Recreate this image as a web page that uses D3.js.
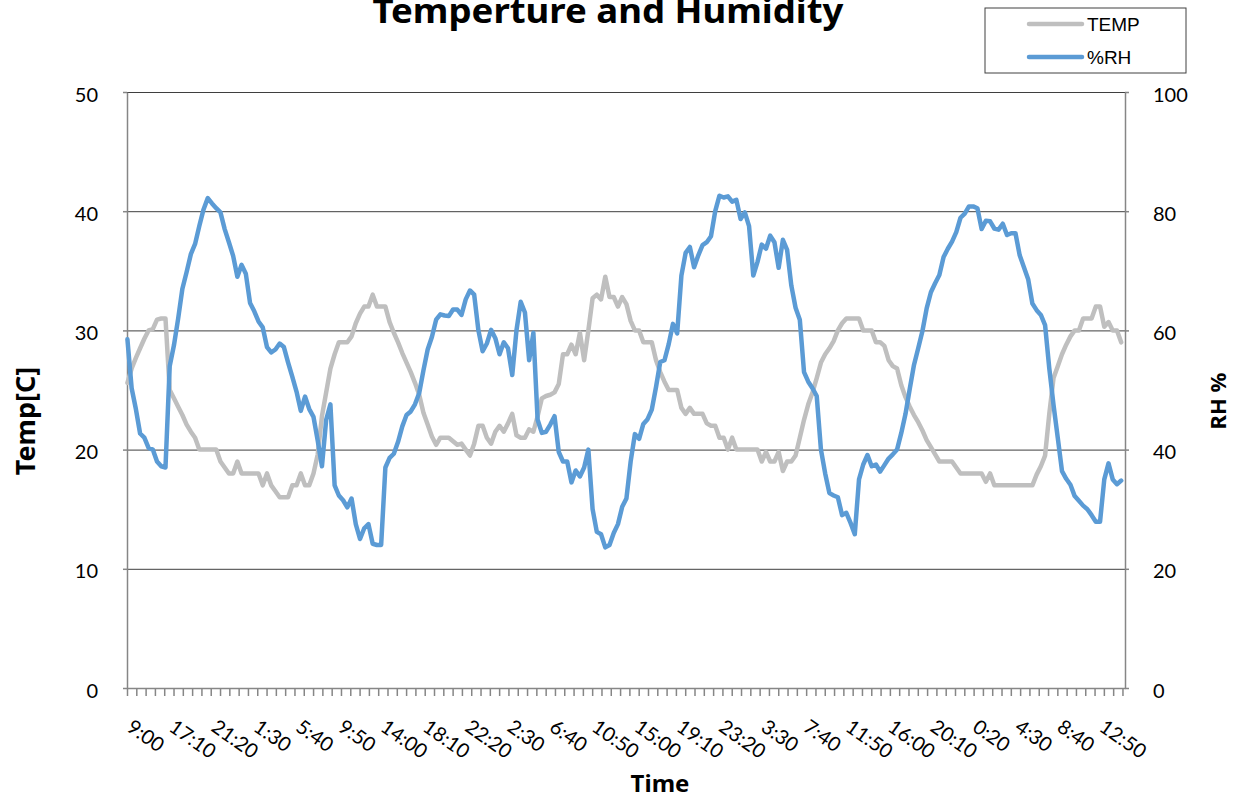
<!DOCTYPE html>
<html lang="en">
<head>
  <meta charset="UTF-8" />
  <title>Temperture and Humidity</title>
  <script src="https://d3js.org/d3.v7.min.js"></script>
  <style>
    html, body {
      margin: 0;
      padding: 0;
      background-color: #fff;
      overflow: hidden;
    }
    svg {
      display: block;
    }
    .axis text {
      font-family: Lato, 'Noto Sans', sans-serif;
      font-size: 20px;
      fill: #000;
    }
    .axis path, .axis line {
      stroke: #868686;
      stroke-width: 1.5px;
    }
    .grid line {
      stroke: #3f3f3f;
      stroke-width: 1px;
    }
    .grid path {
      display: none;
    }
    .axis-title {
      font-family: 'Noto Sans', sans-serif;
      font-weight: bold;
      fill: #000;
    }
  </style>
</head>
<body>
  <svg width="1235" height="798"></svg>

  <script>
    // ---- data ----
    const chartTitle = "Temperture and Humidity";

    // one label every 50 readings (5 min logger), tick mark every 11
    const timeLabels = ["9:00", "17:10", "21:20", "1:30", "5:40", "9:50", "14:00", "18:10",
      "22:20", "2:30", "6:40", "10:50", "15:00", "19:10", "23:20", "3:30", "7:40", "11:50",
      "16:00", "20:10", "0:20", "4:30", "8:40", "12:50"];
    const nReadings = 1180;
    const labelEvery = 50;
    const tickEvery = 11;
    const sampleEvery = 5; // values below are every 5th reading

    const tempC = [
      25.6, 26.8, 27.7, 28.5, 29.3, 30, 30.1, 30.9, 31, 31,
      25, 24.3, 23.6, 22.9, 22.1, 21.5, 21, 20, 20, 20,
      20, 20, 19, 18.5, 18, 18, 19, 18, 18, 18,
      18, 18, 17, 18, 17, 16.5, 16, 16, 16, 17,
      17, 18, 17, 17, 18, 19.6, 22.8, 24.8, 26.8, 28,
      29, 29, 29, 29.5, 30.6, 31.4, 32, 32, 33, 32,
      32, 32, 30.7, 29.8, 29, 28.1, 27.3, 26.5, 25.6, 24.6,
      23.1, 22.1, 21.1, 20.4, 21, 21, 21, 20.7, 20.4, 20.5,
      20, 19.5, 20.5, 22, 22, 21, 20.5, 21.5, 22, 21.5,
      22.2, 23, 21.2, 21, 21, 21.7, 21.5, 22.8, 24.3, 24.5,
      24.6, 24.8, 25.5, 28, 28, 28.8, 28, 29.8, 27.5, 30,
      32.7, 33, 32.6, 34.5, 32.8, 32.8, 32, 32.8, 32.2, 30.8,
      30, 30, 29, 29, 29, 27.5, 26.5, 25.7, 25, 25,
      25, 23.5, 23, 23.5, 23, 23, 23, 22.2, 22, 22,
      21, 21, 20, 21, 20, 20, 20, 20, 20, 20,
      19, 19.8, 19, 19, 19.8, 18.2, 19, 19, 19.5, 21,
      22.5, 23.8, 24.8, 26, 27.3, 28, 28.5, 29.1, 30, 30.6,
      31, 31, 31, 31, 30, 30, 30, 29, 29, 28.7,
      27.5, 27, 26.8, 25.4, 24.4, 23.6, 22.9, 22.3, 21.6, 20.8,
      20.2, 19.6, 19, 19, 19, 19, 18.5, 18, 18, 18,
      18, 18, 18, 17.3, 18, 17, 17, 17, 17, 17,
      17, 17, 17, 17, 17, 17.9, 18.6, 19.5, 23, 26,
      27, 28, 28.8, 29.5, 30, 30, 31, 31, 31, 32,
      32, 30.3, 30.7, 30, 30, 29
    ];

    const rhPct = [
      58.5, 50.3, 46.8, 42.7, 42, 40.3, 40, 38, 37.2, 37,
      54, 57.5, 62, 67, 69.8, 72.8, 74.5, 77.5, 80.3, 82.2,
      81.3, 80.5, 79.8, 77, 74.8, 72.5, 69, 71, 69.5, 64.6,
      63.2, 61.5, 60.5, 57.2, 56.3, 56.8, 57.8, 57.2, 54.6, 52.2,
      49.7, 46.5, 48.9, 46.8, 45.5, 41.5, 37.2, 45, 47.6, 34,
      32.3, 31.5, 30.3, 31.8, 27.5, 25, 26.8, 27.5, 24.2, 24,
      24, 37, 38.6, 39.3, 41.3, 43.9, 45.8, 46.4, 47.6, 49.5,
      53.3, 56.8, 58.9, 61.8, 62.7, 62.5, 62.4, 63.5, 63.5, 62.6,
      65.2, 66.7, 66, 60, 56.5, 57.8, 60.1, 58.7, 56, 58,
      57, 52.5, 60, 64.8, 63, 55, 59.6, 45, 42.8, 43,
      44.2, 45.6, 39.6, 38, 38, 34.5, 36.5, 35.5, 37, 40,
      30, 26.2, 25.8, 23.6, 24, 26, 27.5, 30.4, 31.8, 38,
      42.6, 41.8, 44.3, 45.1, 46.7, 50.5, 54.7, 55, 57.7, 61.1,
      59.5, 69.2, 73, 74, 70.6, 72.6, 74.3, 74.8, 75.8, 80,
      82.6, 82.3, 82.5, 81.6, 81.9, 78.7, 79.8, 77.5, 69.2, 71.5,
      74.4, 73.7, 75.9, 74.8, 70.5, 75.2, 73.5, 67.5, 63.8, 61.8,
      53, 51.4, 50.3, 49, 40, 36, 32.7, 32.3, 32, 29,
      29.4, 27.7, 25.8, 35, 37.5, 39.1, 37.2, 37.5, 36.3, 37.4,
      38.5, 39.2, 40, 42.8, 46, 50.2, 54.2, 57, 59.9, 63.7,
      66.4, 67.9, 69.3, 72.3, 73.7, 74.9, 76.5, 78.9, 79.6, 80.8,
      80.8, 80.5, 77, 78.4, 78.3, 77.1, 76.9, 77.9, 76, 76.3,
      76.3, 72.6, 70.6, 68.6, 64.5, 63.4, 62.6, 60.9, 53.6, 47.5,
      42, 36.4, 35.1, 34.1, 32.2, 31.4, 30.6, 30, 29, 27.9,
      27.9, 35, 37.7, 35, 34.2, 34.8
    ];

    const tempTicks = [0, 10, 20, 30, 40, 50];
    const rhTicks = [0, 20, 40, 60, 80, 100];

    // ---- layout ----
    const svg = d3.select("svg");
    const plot = { left: 127, right: 1125, top: 92, bottom: 688 };

    const x = d3.scaleLinear().domain([0, nReadings]).range([plot.left, plot.right]);
    const yTemp = d3.scaleLinear().domain([0, 50]).range([plot.bottom, plot.top]);
    const yRh = d3.scaleLinear().domain([0, 100]).range([plot.bottom, plot.top]);

    // gridlines
    svg.append("g")
      .attr("class", "grid")
      .attr("transform", `translate(${plot.left},0)`)
      .call(d3.axisLeft(yTemp).tickValues(tempTicks).tickSize(-(plot.right - plot.left)).tickFormat(""));

    // left axis
    svg.append("g")
      .attr("class", "axis")
      .attr("transform", `translate(${plot.left},0)`)
      .call(d3.axisLeft(yTemp).tickValues(tempTicks).tickSize(4).tickPadding(25).tickSizeOuter(0))
      .selectAll("text").attr("dy", "0.45em");

    // right axis
    svg.append("g")
      .attr("class", "axis")
      .attr("transform", `translate(${plot.right},0)`)
      .call(d3.axisRight(yRh).tickValues(rhTicks).tickSize(4).tickPadding(24).tickSizeOuter(0))
      .selectAll("text").attr("dy", "0.45em");

    // bottom axis: tick marks only, labels placed separately (rotated)
    const tickIdx = d3.range(0, nReadings + 1, tickEvery);
    svg.append("g")
      .attr("class", "axis")
      .attr("transform", `translate(0,${plot.bottom})`)
      .call(d3.axisBottom(x).tickValues(tickIdx).tickSize(8).tickSizeOuter(0).tickFormat(""));

    svg.append("g")
      .attr("class", "axis")
      .selectAll("text")
      .data(timeLabels)
      .enter()
      .append("text")
      .attr("transform", (d, i) => `translate(${x(i * labelEvery + 0.5) - 2},730) rotate(35)`)
      .attr("text-anchor", "start")
      .text(d => d);

    // series
    const temps = tempC.map((v, k) => ({ i: k * sampleEvery + 0.5, v }));
    const rhs = rhPct.map((v, k) => ({ i: k * sampleEvery + 0.5, v }));

    svg.append("path")
      .datum(temps)
      .attr("fill", "none")
      .attr("stroke", "#bfbfbf")
      .attr("stroke-width", 4.5)
      .attr("stroke-linejoin", "round")
      .attr("stroke-linecap", "round")
      .attr("d", d3.line().x(d => x(d.i)).y(d => yTemp(d.v)));

    svg.append("path")
      .datum(rhs)
      .attr("fill", "none")
      .attr("stroke", "#5b9bd5")
      .attr("stroke-width", 4.5)
      .attr("stroke-linejoin", "round")
      .attr("stroke-linecap", "round")
      .attr("d", d3.line().x(d => x(d.i)).y(d => yRh(d.v)));

    // titles
    svg.append("text")
      .attr("class", "axis-title")
      .attr("x", 608)
      .attr("y", 23)
      .attr("text-anchor", "middle")
      .attr("textLength", 471)
      .attr("lengthAdjust", "spacingAndGlyphs")
      .style("font-size", "34px")
      .text(chartTitle);

    svg.append("text")
      .attr("class", "axis-title")
      .attr("transform", "translate(35,421) rotate(-90)")
      .attr("text-anchor", "middle")
      .style("font-size", "27px")
      .text("Temp[C]");

    svg.append("text")
      .attr("class", "axis-title")
      .attr("transform", "translate(1226,401) rotate(-90)")
      .attr("text-anchor", "middle")
      .style("font-size", "22px")
      .text("RH %");

    svg.append("text")
      .attr("class", "axis-title")
      .attr("x", 660)
      .attr("y", 792)
      .attr("text-anchor", "middle")
      .style("font-size", "24px")
      .text("Time");

    // legend
    const legend = svg.append("g").attr("transform", "translate(985,8)");
    legend.append("rect")
      .attr("width", 201)
      .attr("height", 65)
      .attr("fill", "#fff")
      .attr("stroke", "#404040")
      .attr("stroke-width", 1);
    const legendItems = [
      { name: "TEMP", color: "#bfbfbf", y: 16 },
      { name: "%RH", color: "#5b9bd5", y: 49 }
    ];
    const item = legend.selectAll("g.item")
      .data(legendItems)
      .enter()
      .append("g")
      .attr("class", "item")
      .attr("transform", d => `translate(0,${d.y})`);
    item.append("line")
      .attr("x1", 44).attr("x2", 97)
      .attr("stroke", d => d.color)
      .attr("stroke-width", 4.5)
      .attr("stroke-linecap", "round");
    item.append("text")
      .attr("x", 102)
      .attr("dy", "0.36em")
      .style("font-family", "'Liberation Sans', sans-serif")
      .style("font-size", "19px")
      .text(d => d.name);
  </script>
</body>
</html>
